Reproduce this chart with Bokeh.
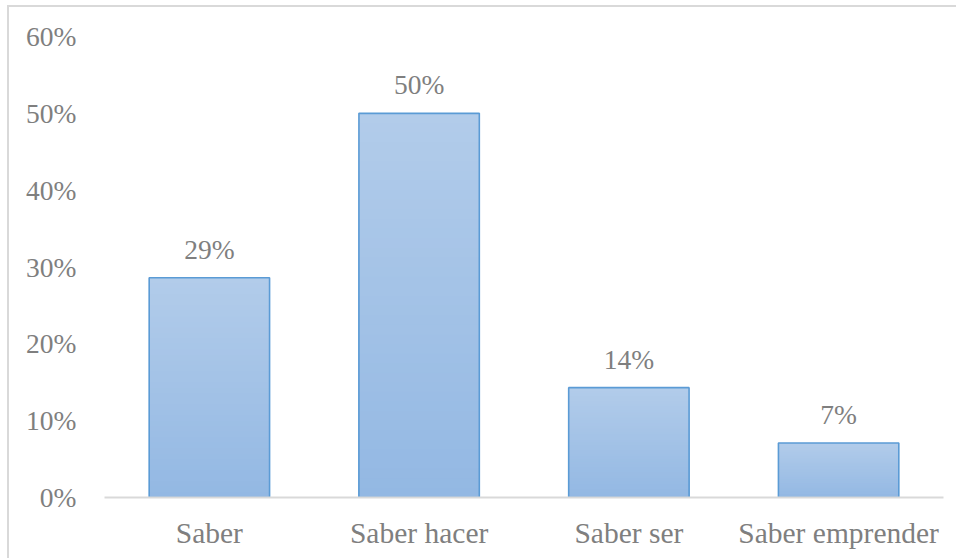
from bokeh.plotting import figure
from bokeh.models import FactorRange, Range1d, FixedTicker, NumeralTickFormatter, ColumnDataSource
from bokeh.core.properties import value
from bokeh.embed import file_html
from bokeh.resources import INLINE

# ---- data ----
categories = ["Saber", "Saber hacer", "Saber ser", "Saber emprender"]
shares = [0.286, 0.50, 0.143, 0.071]
y_ticks = [0.0, 0.1, 0.2, 0.3, 0.4, 0.5, 0.6]

FONT = "Liberation Serif"
TEXT_COLOR = "#7F7F7F"

# canvas starts at (9, 7) because of the chart border drawn via host styles
p = figure(width=949, height=553, x_range=FactorRange(*categories, range_padding=0),
           y_range=Range1d(0, 0.6), output_backend="svg", toolbar_location=None,
           min_border_left=95, min_border_right=15, min_border_top=29, min_border_bottom=63)
p.styles = {"margin-left": "7px", "margin-top": "5px",
            "border-left": "2px solid #D9D9D9", "border-top": "2px solid #D9D9D9"}
p.outline_line_color = None
p.grid.visible = False
p.background_fill_color = "white"
p.border_fill_color = "white"

# gradient bars: nested bars from 0 to a fraction of each value, tallest first
def hex2rgb(h):
    h = h.lstrip("#")
    return tuple(int(h[i:i + 2], 16) for i in (0, 2, 4))

bottom_c = hex2rgb("#93B8E3")
top_c = hex2rgb("#B2CCEA")
N = 40
xs, tops, cols = [], [], []
for i in range(N, 0, -1):
    t = (i - 0.5) / N
    rgb = tuple(int(round(bottom_c[k] + (top_c[k] - bottom_c[k]) * t)) for k in range(3))
    for c, v in zip(categories, shares):
        xs.append(c)
        tops.append(v * i / N)
        cols.append("#%02x%02x%02x" % rgb)
p.vbar(x=xs, bottom=0, top=tops, width=0.574, fill_color=cols, line_color=None)
p.vbar(x=categories, top=shares, width=0.574, fill_color=None,
       line_color="#5B9BD5", line_width=1.6)

labels = ["%d%%" % round(v * 100) for v in shares]
src = ColumnDataSource(dict(x=categories, y=shares, t=labels))
p.text(x="x", y="y", text="t", source=src, text_align="center", text_baseline="bottom",
       y_offset=-13, text_font=value(FONT), text_font_size="27.5px", text_color=TEXT_COLOR)

# axes
p.yaxis.ticker = FixedTicker(ticks=y_ticks)
p.yaxis.formatter = NumeralTickFormatter(format="0%")
p.yaxis.axis_line_color = None
p.yaxis.major_tick_line_color = None
p.yaxis.minor_tick_line_color = None
p.yaxis.major_label_standoff = 22
p.yaxis.major_label_text_font = FONT
p.yaxis.major_label_text_font_size = "27.5px"
p.yaxis.major_label_text_color = TEXT_COLOR

p.xaxis.axis_line_color = "#D9D9D9"
p.xaxis.axis_line_width = 2
p.xaxis.major_tick_line_color = None
p.xaxis.minor_tick_line_color = None
p.xaxis.major_label_standoff = 13
p.xaxis.major_label_text_font = FONT
p.xaxis.major_label_text_font_size = "29.5px"
p.xaxis.major_label_text_color = TEXT_COLOR

open("out.html", "w").write(file_html(p, INLINE))
